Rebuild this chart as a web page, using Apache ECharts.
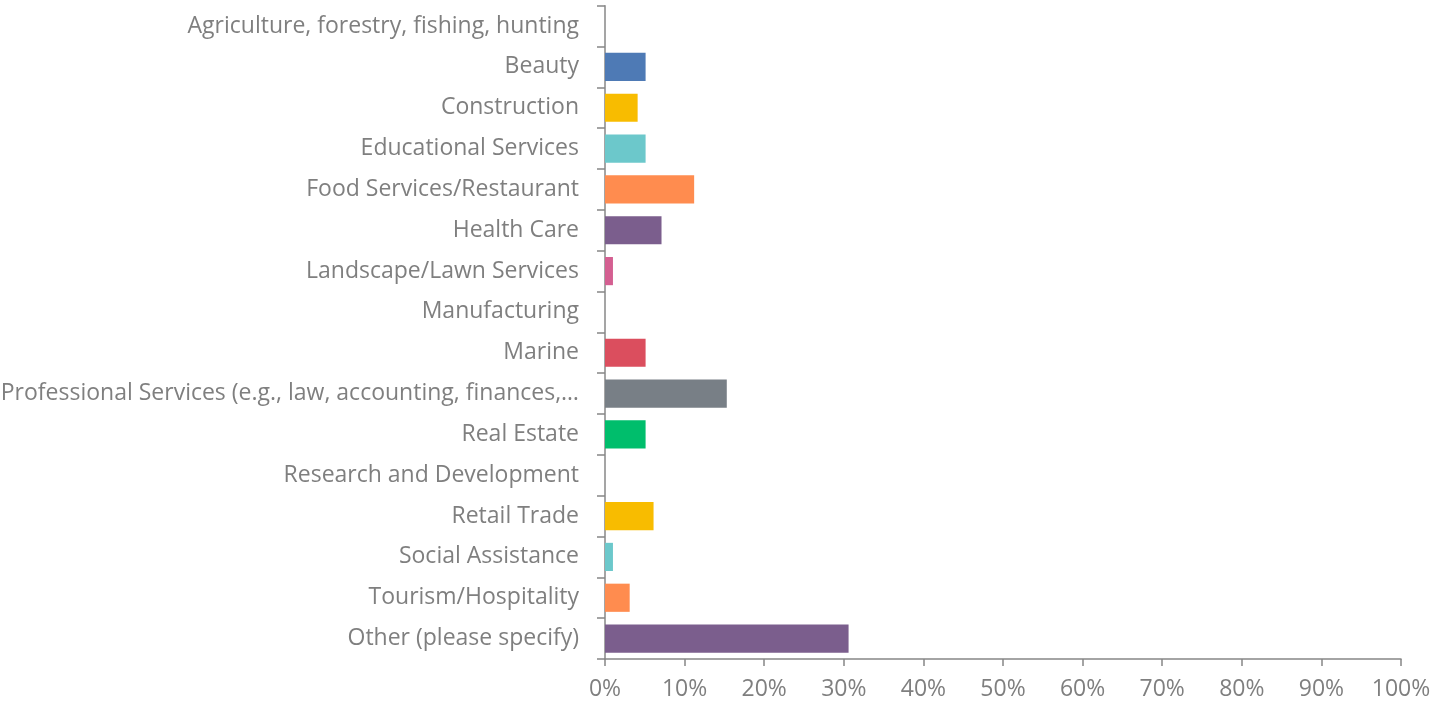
<!DOCTYPE html>
<html>
<head>
<meta charset="utf-8">
<script src="https://cdn.jsdelivr.net/npm/echarts@6/dist/echarts.min.js"></script>
<style>
  html, body { margin: 0; padding: 0; background: #ffffff; }
  #chart { width: 1441px; height: 705px; }
</style>
</head>
<body>
<div id="chart"></div>
<script>
// Industry categories, top to bottom
const categories = [
  'Agriculture, forestry, fishing, hunting',
  'Beauty',
  'Construction',
  'Educational Services',
  'Food Services/Restaurant',
  'Health Care',
  'Landscape/Lawn Services',
  'Manufacturing',
  'Marine',
  'Professional Services (e.g., law, accounting, finances,\u2026',
  'Real Estate',
  'Research and Development',
  'Retail Trade',
  'Social Assistance',
  'Tourism/Hospitality',
  'Other (please specify)'
];

// Share of respondents, in percent
const shares = [0, 5.1, 4.1, 5.1, 11.2, 7.1, 1.0, 0, 5.1, 15.3, 5.1, 0, 6.1, 1.0, 3.1, 30.6];

// Bar fill per category
const barColors = [
  '#4E7AB5', '#4E7AB5', '#F8BC00', '#6CC8CB', '#FF8C4F', '#7B5E8D', '#D45F91', '#DB4E5E',
  '#DB4E5E', '#787F86', '#00BE6C', '#00BE6C', '#F8BC00', '#6CC8CB', '#FF8C4F', '#7B5E8D'
];

// Value axis ticks
const xTicks = [0, 10, 20, 30, 40, 50, 60, 70, 80, 90, 100];

const textColor = '#7F7F7F';
const axisColor = '#878787';
const fontFamily = '"Open Sans", sans-serif';

const chart = echarts.init(document.getElementById('chart'), null, { renderer: 'canvas' });

chart.setOption({
  animation: false,
  grid: {
    left: 605, right: 40, top: 5.7, bottom: 46,
    containLabel: false,
    outerBoundsMode: 'none'
  },
  xAxis: {
    type: 'value',
    min: xTicks[0],
    max: xTicks[xTicks.length - 1],
    interval: xTicks[1] - xTicks[0],
    axisLine: { show: true, lineStyle: { color: axisColor, width: 1.5 } },
    axisTick: { show: true, length: 7, lineStyle: { color: axisColor, width: 1.5 } },
    splitLine: { show: false },
    axisLabel: {
      color: textColor,
      fontSize: 23,
      fontFamily: fontFamily,
      margin: 19,
      formatter: v => v + '%'
    }
  },
  yAxis: {
    type: 'category',
    inverse: true,
    data: categories,
    axisLine: { show: true, lineStyle: { color: axisColor, width: 1.5 } },
    axisTick: { show: true, length: 8, lineStyle: { color: axisColor, width: 1.5 } },
    axisLabel: {
      color: textColor,
      fontSize: 23,
      fontFamily: fontFamily,
      margin: 26,
      interval: 0,
      padding: [4, 0, 0, 0]
    }
  },
  series: [{
    type: 'bar',
    data: shares.map((v, i) => ({ value: v, itemStyle: { color: barColors[i] } })),
    barCategoryGap: '31%'
  }]
});
</script>
</body>
</html>
